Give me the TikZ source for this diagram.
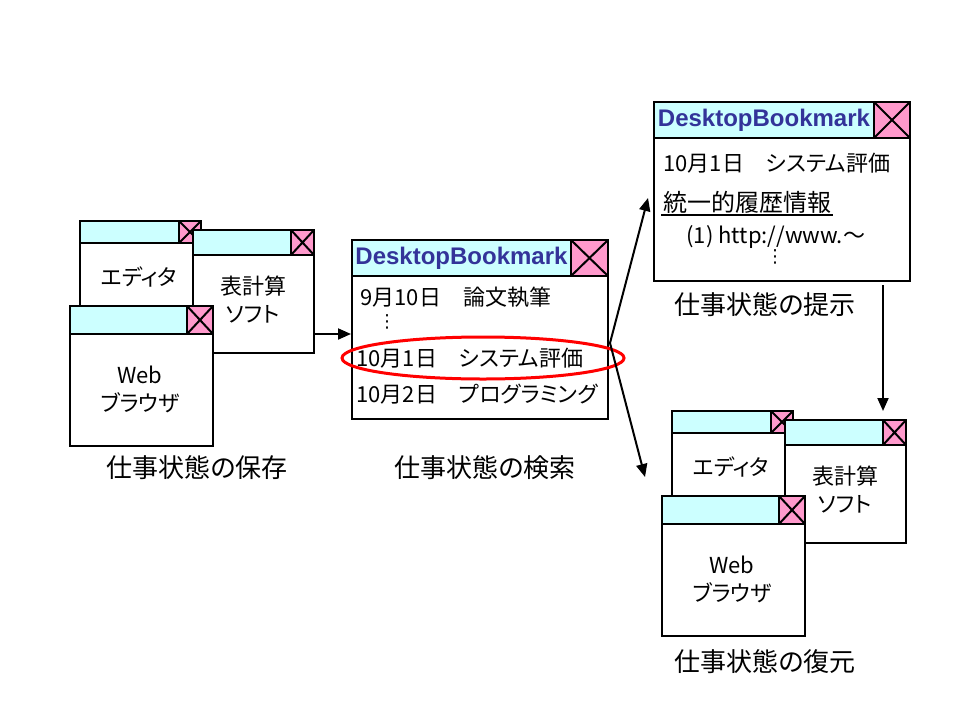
\documentclass[tikz,border=0pt]{standalone}
\usepackage{fontspec}
\setmainfont{Noto Sans CJK JP}[RawFeature=+palt]
\newfontfamily\latinYazi{Liberation Sans}
\newfontfamily\sembolYazi{DejaVu Sans}
\usepackage{tikz}
\usetikzlibrary{arrows.meta,calc,positioning}
\definecolor{baslikMavi}{HTML}{CCFFFF}
\definecolor{kapatPembe}{HTML}{FF99CC}
\definecolor{yaziLacivert}{HTML}{333399}
\definecolor{cemberKirmizi}{HTML}{FF0000}

\begin{document}
\begin{tikzpicture}[x=1pt, y=-1pt, every node/.style={font=\fontsize{22}{28}\selectfont},
  pencere/.style={draw,line width=2pt,fill=white,anchor=north west,inner sep=0pt},
  baslik/.style={pencere,fill=baslikMavi},
  kapat/.style={pencere,fill=kapatPembe,
    path picture={\draw[line width=2pt] (path picture bounding box.north west) -- (path picture bounding box.south east)
      (path picture bounding box.north east) -- (path picture bounding box.south west);}},
  etiket/.style={font=\fontsize{26}{30}\selectfont},
  noktalar/.style={inner sep=0pt,font=\sembolYazi\fontsize{18}{18}\selectfont},
  ok/.style={-{Triangle[length=13pt,width=11pt]},line width=2pt}]
\useasboundingbox (0,0) rectangle (960,720);

% iki pencere grubu: kayit ve geri yukleme
\foreach \k/\dx/\dy in {a/0/0, b/592/190}{
\begin{scope}[shift={(\dx,\dy)}]
\node[pencere,minimum width=121pt,minimum height=100pt] (e\k) at (79,220) {};
\node[baslik,minimum width=99pt,minimum height=22pt] at (79,220) {};
\node[kapat,minimum width=22pt,minimum height=22pt] at (178,220) {};
\node at (139,277) {エディタ};
\node[pencere,minimum width=121pt,minimum height=123pt] (h\k) at (192,229) {};
\node[baslik,minimum width=98pt,minimum height=25pt] at (192,229) {};
\node[kapat,minimum width=23pt,minimum height=25pt] at (290,229) {};
\node[align=center] at (253,300) {表計算\\ソフト};
\node[pencere,minimum width=143pt,minimum height=140pt] (w\k) at (69,305) {};
\node[baslik,minimum width=117pt,minimum height=28pt] at (69,305) {};
\node[kapat,minimum width=26pt,minimum height=28pt] at (186,305) {};
\node[align=center] at (140,389) {Web\\ブラウザ};
\end{scope}}

% DesktopBookmark pencereleri
\node[pencere,minimum width=256pt,minimum height=179pt] (d) at (351,239) {};
\node[baslik,minimum width=219pt,minimum height=36pt,text=yaziLacivert,
  font=\latinYazi\bfseries\fontsize{24}{28}\selectfont] (db) at (351,239) {DesktopBookmark};
\node[kapat,minimum width=37pt,minimum height=36pt] at (570,239) {};
\node[anchor=west] (d1) at (357,297) {9月10日　論文執筆};
\node[noktalar] at (387,322) {⋮};
\node[anchor=west] (d2) at (353,358) {10月1日　システム評価};
\node[anchor=west] (d3) at (353,394) {10月2日　プログラミング};
\draw[cemberKirmizi,line width=3pt] (483,358) ellipse [x radius=141pt, y radius=21pt];

\node[pencere,minimum width=256pt,minimum height=179pt] (t) at (653,101) {};
\node[baslik,minimum width=220pt,minimum height=36pt,text=yaziLacivert,
  font=\latinYazi\bfseries\fontsize{24}{28}\selectfont] (tb) at (653,101) {DesktopBookmark};
\node[kapat,minimum width=36pt,minimum height=36pt] at (873,101) {};
\node[anchor=west] (t1) at (660,163) {10月1日　システム評価};
\node[anchor=west,inner xsep=2pt,inner ysep=2pt,font=\fontsize{24}{28}\selectfont] (t2) at (661,202) {統一的履歴情報};
\draw[line width=2pt] (t2.south west) -- (t2.south east);
\node[anchor=west] (t3) at (683,237) {(1) http://www.～};
\node[noktalar] at (775,257) {⋮};

% etiketler
\node[etiket] at (197,468) {仕事状態の保存};
\node[etiket] at (485,468) {仕事状態の検索};
\node[etiket] at (765,305) {仕事状態の提示};
\node[etiket] at (765,662) {仕事状態の復元};

% oklar
\coordinate (ayr) at ($(d.east)+(1,13.5)$);
\draw[ok] ($(ha.east)+(0,42.5)$) -- ($(d.west)+(0,4.5)$);
\draw[ok] (ayr) -- ($(t.west)+(-5,6.5)$);
\draw[ok] (ayr) -- ($(wb.north west)+(-16,-18)$);
\draw[ok] ($(t.south east)+(-28,3)$) -- ($(hb.north east)+(-24,-8)$);
\end{tikzpicture}
\end{document}
